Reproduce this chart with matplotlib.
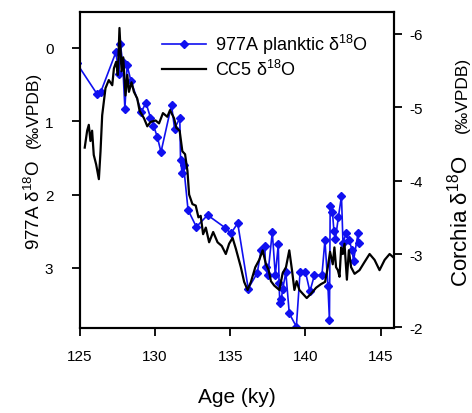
import matplotlib.pyplot as plt

plt.rcParams['font.family'] = ['Liberation Sans', 'DejaVu Sans']
plt.rcParams['mathtext.default'] = 'regular'
plt.rcParams['axes.unicode_minus'] = False

# 977A planktic d18O (left axis, permil VPDB)
age_977a = [124.8, 126.15, 126.4, 127.4, 127.6, 127.7, 127.85, 128.0, 128.15, 128.4,
            129.1, 129.4, 129.7, 129.9, 130.15, 130.4, 131.1, 131.3, 131.65, 131.7,
            131.8, 131.9, 132.2, 132.75, 133.5, 134.65, 135.05, 135.5, 136.2, 136.8,
            137.05, 137.3, 137.35, 137.5, 137.8, 138.0, 138.2, 138.25, 138.3, 138.4,
            138.5, 138.7, 138.93, 139.4, 139.65, 140.0, 140.3, 140.6, 141.1, 141.3,
            141.5, 141.6, 141.65, 141.8, 141.9, 142.0, 142.2, 142.4, 142.5, 142.7,
            142.9, 143.1, 143.2, 143.5, 143.55]
d18o_977a = [0.21, 0.63, 0.60, 0.06, 0.36, -0.05, 0.20, 0.83, 0.24, 0.45,
             0.87, 0.75, 0.95, 1.06, 1.21, 1.42, 0.78, 1.10, 0.96, 1.53,
             1.70, 1.60, 2.21, 2.44, 2.28, 2.45, 2.53, 2.39, 3.28, 3.07,
             2.76, 2.70, 2.99, 3.10, 2.51, 3.10, 2.68, 3.20, 3.48, 3.42,
             3.28, 3.06, 3.62, 3.80, 3.05, 3.05, 3.32, 3.10, 3.10, 2.62,
             3.25, 3.71, 2.15, 2.24, 2.50, 2.60, 2.30, 2.02, 2.66, 2.53,
             2.62, 2.75, 2.90, 2.53, 2.66]

# Corchia CC5 d18O (right axis, permil VPDB)
age_cc5 = [125.33, 125.49, 125.6, 125.71, 125.82, 125.93, 126.09, 126.27, 126.38, 126.49,
           126.71, 126.93, 127.16, 127.27, 127.42, 127.53, 127.64, 127.78, 127.89, 128.04,
           128.16, 128.27, 128.44, 128.6, 128.82, 128.98, 129.27, 129.49, 129.71, 130.04,
           130.27, 130.53, 130.82, 131.0, 131.27, 131.42, 131.64, 131.82, 132.0, 132.16,
           132.27, 132.49, 132.71, 132.89, 133.04, 133.2, 133.38, 133.6, 133.87, 134.16,
           134.44, 134.71, 134.93, 135.16, 135.38, 135.71, 135.93, 136.16, 136.38, 136.67,
           136.93, 137.16, 137.38, 137.56, 137.71, 137.93, 138.27, 138.49, 138.71, 138.93,
           139.11, 139.27, 139.42, 139.6, 139.82, 140.09, 140.38, 140.71, 141.04, 141.31,
           141.49, 141.64, 141.82, 141.93, 142.04, 142.16, 142.27, 142.38, 142.49, 142.6,
           142.76, 142.89, 143.04, 143.27, 143.6, 143.93, 144.27, 144.6, 144.93, 145.27,
           145.6, 145.93]
d18o_cc5 = [-4.45, -4.68, -4.76, -4.54, -4.68, -4.35, -4.22, -4.02, -4.40, -4.89,
            -5.26, -5.37, -5.30, -5.53, -5.62, -5.44, -6.08, -5.49, -5.68, -5.16,
            -5.44, -5.21, -5.34, -5.21, -5.12, -4.95, -4.85, -4.74, -4.80, -4.82,
            -4.78, -4.92, -4.87, -4.96, -4.85, -4.72, -4.68, -4.40, -4.36, -4.13,
            -3.81, -3.68, -3.66, -3.50, -3.52, -3.27, -3.36, -3.16, -3.30, -3.16,
            -3.11, -3.00, -3.14, -3.22, -3.07, -2.82, -2.62, -2.51, -2.62, -2.82,
            -2.92, -3.05, -2.86, -2.78, -2.63, -2.57, -2.51, -2.74, -2.82, -3.05,
            -2.78, -2.51, -2.63, -2.51, -2.46, -2.40, -2.46, -2.54, -2.59, -2.62,
            -2.82, -3.03, -2.86, -3.09, -2.82, -2.78, -2.69, -3.09, -3.00, -3.14,
            -2.65, -3.05, -2.82, -2.73, -2.78, -2.89, -3.00, -2.92, -2.78, -2.92,
            -3.00, -2.94]

fig = plt.figure(figsize=(4.72, 4.14), dpi=100)
ax = fig.add_axes([0.169, 0.205, 0.666, 0.764])
ax2 = ax.twinx()

l1, = ax.plot(age_977a, d18o_977a, color='#1010f0', lw=1.2, marker='D', ms=4.5,
              label='977A planktic δ$^{18}$O')
l2, = ax2.plot(age_cc5, d18o_cc5, color='black', lw=1.6, label='CC5 δ$^{18}$O')

ax.set_xlim(125, 145.9)
ax.set_ylim(3.82, -0.49)
ax2.set_ylim(-1.99, -6.3)
ax.set_xticks([125, 130, 135, 140, 145])
ax.set_yticks([0, 1, 2, 3])
ax2.set_yticks([-6, -5, -4, -3, -2])

for a in (ax, ax2):
    a.tick_params(direction='out', length=6, width=1.3, labelsize=11)
    for s in a.spines.values():
        s.set_linewidth(1.5)
ax.tick_params(axis='x', pad=9)
ax.tick_params(axis='y', pad=13)
ax2.tick_params(axis='y', pad=5)

ax.set_xlabel('Age (ky)', fontsize=15, labelpad=17)

# axis titles: main part plus smaller unit part, stacked along the rotated line
fig.text(34 / 472, 1 - 250 / 414, '977A δ$^{18}$O', rotation=90, ha='center', va='bottom', fontsize=13.5)
fig.text(33 / 472, 1 - 148 / 414, '(‰VPDB)', rotation=90, ha='center', va='bottom', fontsize=12.5)
fig.text(460 / 472, 1 - 287 / 414, 'Corchia δ$^{18}$O', rotation=90, ha='center', va='bottom', fontsize=16)
fig.text(462 / 472, 1 - 133 / 414, '(‰VPDB)', rotation=90, ha='center', va='bottom', fontsize=12.5)

ax2.legend(handles=[l1, l2], loc='upper left', bbox_to_anchor=(155 / 472, 1 - 26 / 414),
           bbox_transform=fig.transFigure, frameon=False, fontsize=13, handlelength=2.4,
           handletextpad=0.5, labelspacing=0.15, borderaxespad=0)

plt.savefig('out.png', dpi=100)
